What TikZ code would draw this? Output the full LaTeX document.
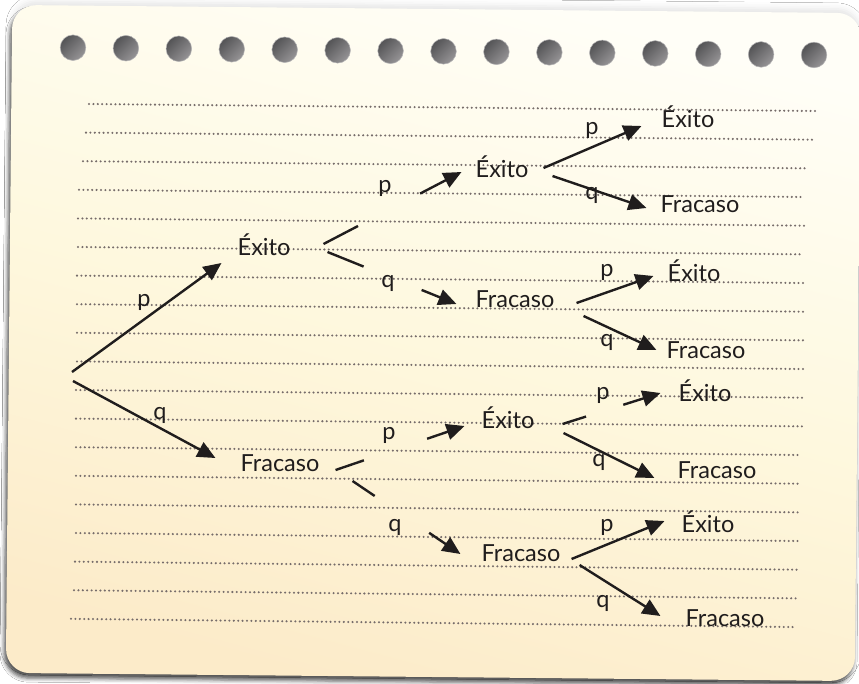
\documentclass[tikz,border=0pt]{standalone}
\usepackage{fontspec}
\setmainfont{Lato}
\usetikzlibrary{arrows.meta,calc,shadows.blur}

\definecolor{pagetop}{RGB}{255,254,247}
\definecolor{pagemid}{RGB}{254,248,222}
\definecolor{pagebot}{RGB}{252,235,201}
\definecolor{ink}{RGB}{32,29,29}
\definecolor{dotc}{RGB}{118,108,106}
\definecolor{holedark}{RGB}{84,84,86}
\definecolor{holelight}{RGB}{150,148,150}

% broken connector: short stub, gap for the label, then the arrow
\newcommand\brokenedge[4]{%
  \draw[edge] (#1) -- ($(#1)!#3!(#2)$);
  \draw[arr] ($(#1)!#4!(#2)$) -- (#2);}

\begin{document}
\begin{tikzpicture}[x=1pt,y=-1pt,
  lbl/.style={font=\fontsize{23.5}{28}\selectfont, text=ink, inner sep=0pt, anchor=base},
  pq/.style={font=\fontsize{23.5}{28}\selectfont, text=ink, inner sep=0pt},
  edge/.style={line width=2.4pt, draw=ink},
  arr/.style={edge, -{Triangle[length=18pt,width=16pt]}},
  dotline/.style={draw=dotc, line width=2.3pt, line cap=round, dash pattern=on 0pt off 4.4pt},
  hole/.style={top color=holedark, bottom color=holelight, shading angle=45,
               draw=holelight!70!white, line width=0.5pt}]

\path[use as bounding box, fill=white] (0,0) rectangle (859,683);

% sheet of paper with its shadows
\begin{scope}[rotate around={-0.55:(433,343)}]
  \path[rounded corners=24pt,
        blur shadow={shadow xshift=0pt, shadow yshift=4pt, shadow opacity=10, shadow blur radius=6pt}]
        (9,9) rectangle (858,677);
  \path[rounded corners=24pt,
        blur shadow={shadow xshift=-2pt, shadow yshift=-5pt, shadow opacity=65, shadow blur radius=4pt},
        top color=pagetop, bottom color=pagebot, middle color=pagemid, shading angle=-15]
        (9,9) rectangle (858,677);
\end{scope}

% binder holes
\foreach \k in {0,...,14}
  \path[hole] ({73+52.93*\k},{47.7+0.52*\k}) circle[radius=12.8];

% ruled dotted lines
\foreach \i/\lx/\rx in {0/89/815, 1/86/812, 2/83/807, 3/79/804, 4/78/804, 5/78/803,
    6/77/803, 7/77/803, 8/77/803, 9/77/803, 10/76/803, 11/76/802, 12/76/801,
    13/76/801, 14/76/800, 15/76/800, 16/75/800, 17/74/799, 18/71/795}
  \draw[dotline] ({\lx},{104+28.6*\i}) -- ({\rx},{111+28.67*\i});

% tree nodes
\coordinate (root) at (72,376);
\node[lbl] (e1)  at (264,255) {Éxito};
\node[lbl] (f1)  at (280,471) {Fracaso};
\node[lbl] (e2a) at (502,177) {Éxito};
\node[lbl] (f2a) at (515,307) {Fracaso};
\node[lbl] (e2c) at (508,428) {Éxito};
\node[lbl] (f2d) at (521,561) {Fracaso};
\node[lbl] (e3a) at (688,127) {Éxito};
\node[lbl] (f3a) at (700,212) {Fracaso};
\node[lbl] (e3b) at (694,281) {Éxito};
\node[lbl] (f3b) at (706,358) {Fracaso};
\node[lbl] (e3c) at (705,401) {Éxito};
\node[lbl] (f3c) at (717,478) {Fracaso};
\node[lbl] (e3d) at (708,532) {Éxito};
\node[lbl] (f3d) at (725,626) {Fracaso};

% first level
\draw[arr] ([shift={(0,-4)}]root) -- ([shift={(-16,8)}]e1.base west);
\draw[arr] ([shift={(1,5)}]root)  -- ([shift={(-25,-13)}]f1.base west);

% second level
\coordinate (a1) at ([shift={(33,-11)}]e1.base east);
\coordinate (b1) at ([shift={(-14,-5)}]e2a.base west);
\brokenedge{a1}{b1}{0.25}{0.70}
\coordinate (a2) at ([shift={(37,-3)}]e1.base east);
\coordinate (b2) at ([shift={(-19,-3)}]f2a.base west);
\brokenedge{a2}{b2}{0.28}{0.73}
\coordinate (a3) at ([shift={(16,-1)}]f1.base east);
\coordinate (b3) at ([shift={(-17,-2)}]e2c.base west);
\brokenedge{a3}{b3}{0.22}{0.71}
\coordinate (a4) at ([shift={(33,10)}]f1.base east);
\coordinate (b4) at ([shift={(-21,-7)}]f2d.base west);
\brokenedge{a4}{b4}{0.205}{0.71}

% third level
\draw[arr] ([shift={(15,-9)}]e2a.base east) -- ([shift={(-20,-1)}]e3a.base west);
\draw[arr] ([shift={(24,-1)}]e2a.base east) -- ([shift={(-14,-4)}]f3a.base west);
\draw[arr] ([shift={(22,-4)}]f2a.base east) -- ([shift={(-14,-5)}]e3b.base west);
\draw[arr] ([shift={(29,9)}]f2a.base east)  -- ([shift={(-10,-8)}]f3b.base west);
\coordinate (a5) at ([shift={(28,-4)}]e2c.base east);
\coordinate (b5) at ([shift={(-18,-8)}]e3c.base west);
\brokenedge{a5}{b5}{0.24}{0.62}
\draw[arr] ([shift={(29,5)}]e2c.base east)  -- ([shift={(-23,0)}]f3c.base west);
\draw[arr] ([shift={(11,-2)}]f2d.base east) -- ([shift={(-17,-11)}]e3d.base west);
\draw[arr] ([shift={(19,4)}]f2d.base east)  -- ([shift={(-25,-10)}]f3d.base west);

% branch probabilities
\node[pq] (p1)  at (144,302) {p};
\node[pq] (q1)  at (160,415) {q};
\node[pq] (p2)  at (385,188) {p};
\node[pq] (q2)  at (388,283) {q};
\node[pq] (p3)  at (389,435) {p};
\node[pq] (q3)  at (395,527) {q};
\node[pq] (p4)  at (592,130) {p};
\node[pq] (q4)  at (592,195) {q};
\node[pq] (p5)  at (607,272) {p};
\node[pq] (q5)  at (607,342) {q};
\node[pq] (p6)  at (603,395) {p};
\node[pq] (q6)  at (599,462) {q};
\node[pq] (p7)  at (607,527) {p};
\node[pq] (q7)  at (603,603) {q};
\end{tikzpicture}
\end{document}
